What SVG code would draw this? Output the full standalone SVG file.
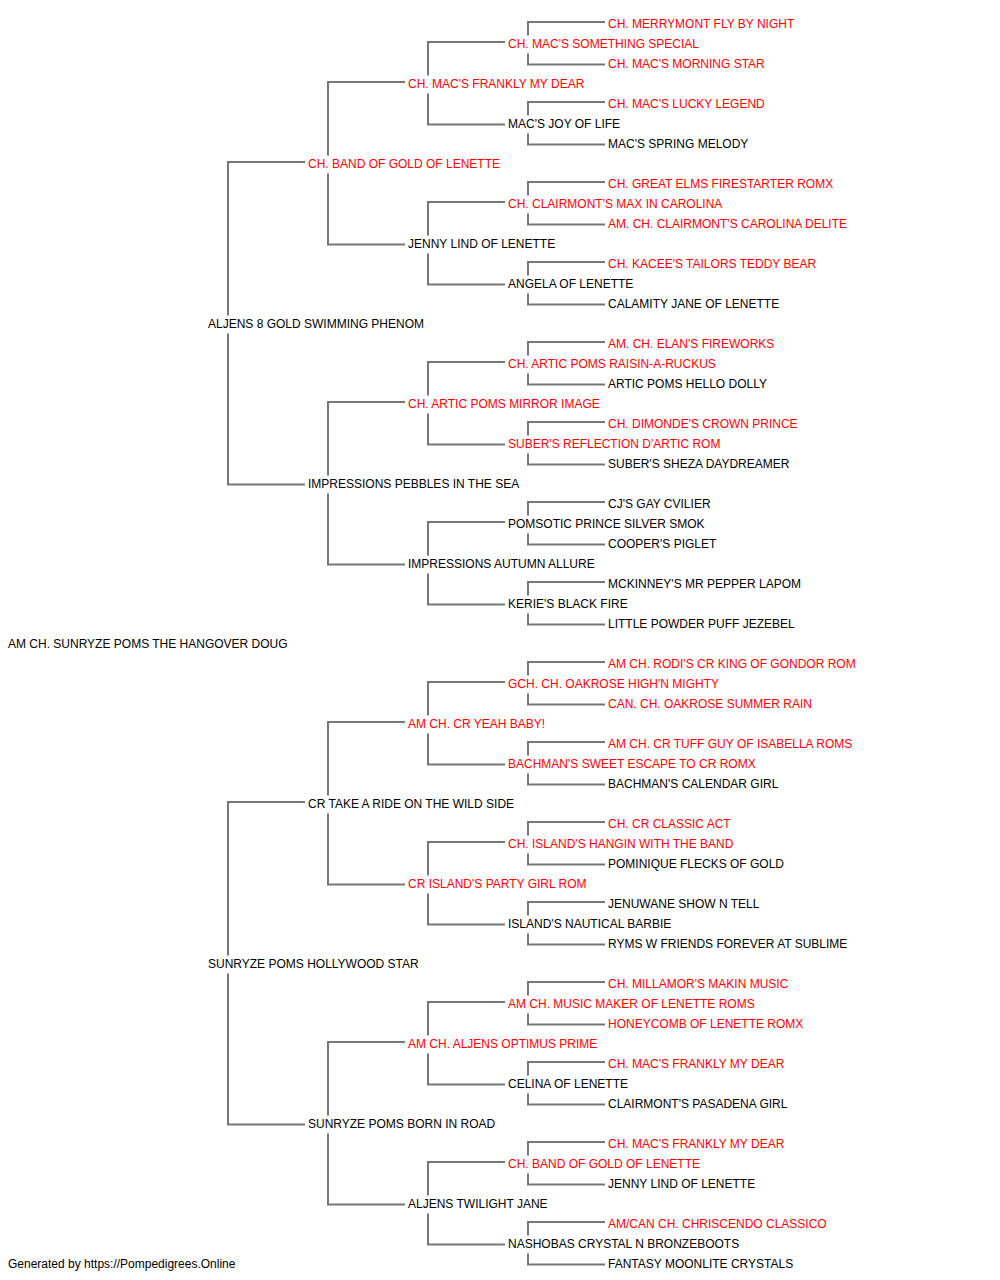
<svg xmlns="http://www.w3.org/2000/svg" width="1000" height="1280" viewBox="0 0 1000 1280">
<style>
text{font-family:"Liberation Sans",Arial,sans-serif;font-size:12px}
.r{fill:#ff0000}
.b{fill:#000}
.c path{fill:none;stroke:#777;stroke-width:2}
</style>
<rect width="1000" height="1280" fill="#fff"/>
<g class="c" id="connectors">
<path d="M605 22H528V35.5M528 53.5V64.5H605"/>
<path d="M605 102H528V115.5M528 133.5V144.5H605"/>
<path d="M605 182H528V195.5M528 213.5V224.5H605"/>
<path d="M605 262H528V275.5M528 293.5V304.5H605"/>
<path d="M605 342H528V355.5M528 373.5V384.5H605"/>
<path d="M605 422H528V435.5M528 453.5V464.5H605"/>
<path d="M605 502H528V515.5M528 533.5V544.5H605"/>
<path d="M605 582H528V595.5M528 613.5V624.5H605"/>
<path d="M605 662H528V675.5M528 693.5V704.5H605"/>
<path d="M605 742H528V755.5M528 773.5V784.5H605"/>
<path d="M605 822H528V835.5M528 853.5V864.5H605"/>
<path d="M605 902H528V915.5M528 933.5V944.5H605"/>
<path d="M605 982H528V995.5M528 1013.5V1024.5H605"/>
<path d="M605 1062H528V1075.5M528 1093.5V1104.5H605"/>
<path d="M605 1142H528V1155.5M528 1173.5V1184.5H605"/>
<path d="M605 1222H528V1235.5M528 1253.5V1264.5H605"/>
<path d="M505 42H428V75.5M428 93.5V124.5H505"/>
<path d="M505 202H428V235.5M428 253.5V284.5H505"/>
<path d="M505 362H428V395.5M428 413.5V444.5H505"/>
<path d="M505 522H428V555.5M428 573.5V604.5H505"/>
<path d="M505 682H428V715.5M428 733.5V764.5H505"/>
<path d="M505 842H428V875.5M428 893.5V924.5H505"/>
<path d="M505 1002H428V1035.5M428 1053.5V1084.5H505"/>
<path d="M505 1162H428V1195.5M428 1213.5V1244.5H505"/>
<path d="M405 82H328V155.5M328 173.5V244.5H405"/>
<path d="M405 402H328V475.5M328 493.5V564.5H405"/>
<path d="M405 722H328V795.5M328 813.5V884.5H405"/>
<path d="M405 1042H328V1115.5M328 1133.5V1204.5H405"/>
<path d="M305 162H228V315.5M228 333.5V484.5H305"/>
<path d="M305 802H228V955.5M228 973.5V1124.5H305"/>
</g>
<g id="n0"><text class="r" x="608" y="28">CH. MERRYMONT FLY BY NIGHT</text></g>
<g id="n1"><text class="r" x="508" y="48">CH. MAC'S SOMETHING SPECIAL</text></g>
<g id="n2"><text class="r" x="608" y="68">CH. MAC'S MORNING STAR</text></g>
<g id="n3"><text class="r" x="408" y="88">CH. MAC'S FRANKLY MY DEAR</text></g>
<g id="n4"><text class="r" x="608" y="108">CH. MAC'S LUCKY LEGEND</text></g>
<g id="n5"><text class="b" x="508" y="128">MAC'S JOY OF LIFE</text></g>
<g id="n6"><text class="b" x="608" y="148">MAC'S SPRING MELODY</text></g>
<g id="n7"><text class="r" x="308" y="168">CH. BAND OF GOLD OF LENETTE</text></g>
<g id="n8"><text class="r" x="608" y="188">CH. GREAT ELMS FIRESTARTER ROMX</text></g>
<g id="n9"><text class="r" x="508" y="208">CH. CLAIRMONT'S MAX IN CAROLINA</text></g>
<g id="n10"><text class="r" x="608" y="228">AM. CH. CLAIRMONT'S CAROLINA DELITE</text></g>
<g id="n11"><text class="b" x="408" y="248">JENNY LIND OF LENETTE</text></g>
<g id="n12"><text class="r" x="608" y="268">CH. KACEE'S TAILORS TEDDY BEAR</text></g>
<g id="n13"><text class="b" x="508" y="288">ANGELA OF LENETTE</text></g>
<g id="n14"><text class="b" x="608" y="308">CALAMITY JANE OF LENETTE</text></g>
<g id="n15"><text class="b" x="208" y="328">ALJENS 8 GOLD SWIMMING PHENOM</text></g>
<g id="n16"><text class="r" x="608" y="348">AM. CH. ELAN'S FIREWORKS</text></g>
<g id="n17"><text class="r" x="508" y="368">CH. ARTIC POMS RAISIN-A-RUCKUS</text></g>
<g id="n18"><text class="b" x="608" y="388">ARTIC POMS HELLO DOLLY</text></g>
<g id="n19"><text class="r" x="408" y="408">CH. ARTIC POMS MIRROR IMAGE</text></g>
<g id="n20"><text class="r" x="608" y="428">CH. DIMONDE'S CROWN PRINCE</text></g>
<g id="n21"><text class="r" x="508" y="448">SUBER'S REFLECTION D'ARTIC ROM</text></g>
<g id="n22"><text class="b" x="608" y="468">SUBER'S SHEZA DAYDREAMER</text></g>
<g id="n23"><text class="b" x="308" y="488">IMPRESSIONS PEBBLES IN THE SEA</text></g>
<g id="n24"><text class="b" x="608" y="508">CJ'S GAY CVILIER</text></g>
<g id="n25"><text class="b" x="508" y="528">POMSOTIC PRINCE SILVER SMOK</text></g>
<g id="n26"><text class="b" x="608" y="548">COOPER'S PIGLET</text></g>
<g id="n27"><text class="b" x="408" y="568">IMPRESSIONS AUTUMN ALLURE</text></g>
<g id="n28"><text class="b" x="608" y="588">MCKINNEY'S MR PEPPER LAPOM</text></g>
<g id="n29"><text class="b" x="508" y="608">KERIE'S BLACK FIRE</text></g>
<g id="n30"><text class="b" x="608" y="628">LITTLE POWDER PUFF JEZEBEL</text></g>
<g id="n31"><text class="b" x="8" y="648">AM CH. SUNRYZE POMS THE HANGOVER DOUG</text></g>
<g id="n32"><text class="r" x="608" y="668">AM CH. RODI'S CR KING OF GONDOR ROM</text></g>
<g id="n33"><text class="r" x="508" y="688">GCH. CH. OAKROSE HIGH'N MIGHTY</text></g>
<g id="n34"><text class="r" x="608" y="708">CAN. CH. OAKROSE SUMMER RAIN</text></g>
<g id="n35"><text class="r" x="408" y="728">AM CH. CR YEAH BABY!</text></g>
<g id="n36"><text class="r" x="608" y="748">AM CH. CR TUFF GUY OF ISABELLA ROMS</text></g>
<g id="n37"><text class="r" x="508" y="768">BACHMAN'S SWEET ESCAPE TO CR ROMX</text></g>
<g id="n38"><text class="b" x="608" y="788">BACHMAN'S CALENDAR GIRL</text></g>
<g id="n39"><text class="b" x="308" y="808">CR TAKE A RIDE ON THE WILD SIDE</text></g>
<g id="n40"><text class="r" x="608" y="828">CH. CR CLASSIC ACT</text></g>
<g id="n41"><text class="r" x="508" y="848">CH. ISLAND'S HANGIN WITH THE BAND</text></g>
<g id="n42"><text class="b" x="608" y="868">POMINIQUE FLECKS OF GOLD</text></g>
<g id="n43"><text class="r" x="408" y="888">CR ISLAND'S PARTY GIRL ROM</text></g>
<g id="n44"><text class="b" x="608" y="908">JENUWANE SHOW N TELL</text></g>
<g id="n45"><text class="b" x="508" y="928">ISLAND'S NAUTICAL BARBIE</text></g>
<g id="n46"><text class="b" x="608" y="948">RYMS W FRIENDS FOREVER AT SUBLIME</text></g>
<g id="n47"><text class="b" x="208" y="968">SUNRYZE POMS HOLLYWOOD STAR</text></g>
<g id="n48"><text class="r" x="608" y="988">CH. MILLAMOR'S MAKIN MUSIC</text></g>
<g id="n49"><text class="r" x="508" y="1008">AM CH. MUSIC MAKER OF LENETTE ROMS</text></g>
<g id="n50"><text class="r" x="608" y="1028">HONEYCOMB OF LENETTE ROMX</text></g>
<g id="n51"><text class="r" x="408" y="1048">AM CH. ALJENS OPTIMUS PRIME</text></g>
<g id="n52"><text class="r" x="608" y="1068">CH. MAC'S FRANKLY MY DEAR</text></g>
<g id="n53"><text class="b" x="508" y="1088">CELINA OF LENETTE</text></g>
<g id="n54"><text class="b" x="608" y="1108">CLAIRMONT'S PASADENA GIRL</text></g>
<g id="n55"><text class="b" x="308" y="1128">SUNRYZE POMS BORN IN ROAD</text></g>
<g id="n56"><text class="r" x="608" y="1148">CH. MAC'S FRANKLY MY DEAR</text></g>
<g id="n57"><text class="r" x="508" y="1168">CH. BAND OF GOLD OF LENETTE</text></g>
<g id="n58"><text class="b" x="608" y="1188">JENNY LIND OF LENETTE</text></g>
<g id="n59"><text class="b" x="408" y="1208">ALJENS TWILIGHT JANE</text></g>
<g id="n60"><text class="r" x="608" y="1228">AM/CAN CH. CHRISCENDO CLASSICO</text></g>
<g id="n61"><text class="b" x="508" y="1248">NASHOBAS CRYSTAL N BRONZEBOOTS</text></g>
<g id="n62"><text class="b" x="608" y="1268">FANTASY MOONLITE CRYSTALS</text></g>
<g id="footer"><text class="b" x="8" y="1268">Generated by https://Pompedigrees.Online</text></g>
</svg>
